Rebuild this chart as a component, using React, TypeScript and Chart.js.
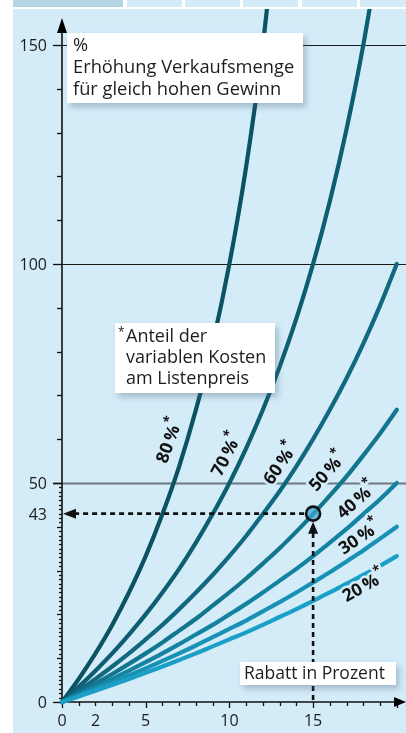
import React, { useEffect, useRef } from "react";
import { Chart, registerables } from "chart.js";

Chart.register(...registerables);

// ---------- data ----------
const discount = [0, 1, 2, 3, 4, 5, 6, 7, 8, 9, 10, 11, 12, 13, 14, 15, 16, 17, 18, 19, 20];

const share80 = [0, 5.26, 11.1, 17.6, 25, 33.3, 42.9, 53.8, 66.7, 81.8, 100, 122.2, 150, 185.7, null, null, null, null, null, null, null];
const share70 = [0, 3.45, 7.14, 11.1, 15.4, 20, 25, 30.4, 36.4, 42.9, 50, 57.9, 66.7, 76.5, 87.5, 100, 114.3, 130.8, 150, 172.7, null];
const share60 = [0, 2.56, 5.26, 8.11, 11.1, 14.3, 17.6, 21.2, 25, 29, 33.3, 37.9, 42.9, 48.1, 53.8, 60, 66.7, 73.9, 81.8, 90.5, 100];
const share50 = [0, 2.04, 4.17, 6.38, 8.7, 11.1, 13.6, 16.3, 19, 22, 25, 28.2, 31.6, 35.1, 38.9, 42.9, 47.1, 51.5, 56.3, 61.3, 66.7];
const share40 = [0, 1.69, 3.45, 5.26, 7.14, 9.09, 11.1, 13.2, 15.4, 17.6, 20, 22.4, 25, 27.7, 30.4, 33.3, 36.4, 39.5, 42.9, 46.3, 50];
const share30 = [0, 1.45, 2.94, 4.48, 6.06, 7.69, 9.38, 11.1, 12.9, 14.8, 16.7, 18.6, 20.7, 22.8, 25, 27.3, 29.6, 32.1, 34.6, 37.3, 40];
const share20 = [0, 1.27, 2.56, 3.9, 5.26, 6.67, 8.11, 9.59, 11.1, 12.7, 14.3, 15.9, 17.6, 19.4, 21.2, 23.1, 25, 27, 29, 31.1, 33.3];

const seriesNames = ["20", "30", "40", "50", "60", "70", "80"];
const seriesValues = [share20, share30, share40, share50, share60, share70, share80];

const xTickLabels = [0, 2, 5, 10, 15];
const yTickLabels = [0, 43, 50, 100, 150];
const gridValues = [50, 100, 150];

const markerDiscount = 15;
const markerIncrease = 43;

// ---------- styles ----------
const W = 406;
const H = 733;
const PANEL = "#d4ebf8";
const TAB_DARK = "#b2d5e3";
const TEXT = "#1d1d1d";
const FONT = '"Open Sans", "Noto Sans", sans-serif';
const seriesColors = ["#1b9fc7", "#1791b4", "#1483a2", "#12768f", "#10697f", "#0d5e71", "#0b5262"];

// label anchors (data coordinates) and rotation angles for the curve labels
const labelAnchors = [
  { x: 18.04, y: 26.3, a: 29 },
  { x: 17.8, y: 37.4, a: 34 },
  { x: 17.62, y: 45.9, a: 41 },
  { x: 15.89, y: 52.5, a: 48 },
  { x: 13.08, y: 54.3, a: 55 },
  { x: 9.86, y: 56.4, a: 63 },
  { x: 6.45, y: 59.6, a: 70 },
];

function drawBox(ctx: CanvasRenderingContext2D, x: number, y: number, w: number, h: number) {
  ctx.save();
  ctx.shadowColor = "rgba(70,100,120,0.35)";
  ctx.shadowBlur = 6;
  ctx.shadowOffsetX = 3;
  ctx.shadowOffsetY = 4;
  ctx.fillStyle = "#ffffff";
  ctx.fillRect(x, y, w, h);
  ctx.restore();
}

const deco = {
  id: "deco",
  beforeDraw(chart: any) {
    const ctx: CanvasRenderingContext2D = chart.ctx;
    ctx.save();
    ctx.fillStyle = "#ffffff";
    ctx.fillRect(0, 0, W, H);
    ctx.fillStyle = PANEL;
    ctx.fillRect(13, 9, W - 13, H - 9);
    const tabs = [
      [13, 123, TAB_DARK],
      [127, 182, PANEL],
      [185, 240, PANEL],
      [243, 298, PANEL],
      [302, 357, PANEL],
      [360, 406, PANEL],
    ];
    tabs.forEach(([a, b, c]: any) => {
      ctx.fillStyle = c;
      ctx.fillRect(a, 0, b - a, 7);
    });
    ctx.restore();
  },
  beforeDatasetsDraw(chart: any) {
    const ctx: CanvasRenderingContext2D = chart.ctx;
    const xs = chart.scales.x;
    const ys = chart.scales.y;
    const x0 = xs.getPixelForValue(0);
    const y0 = ys.getPixelForValue(0);
    ctx.save();
    // grid lines
    gridValues.forEach((v) => {
      const py = Math.round(ys.getPixelForValue(v)) + 0.5;
      ctx.strokeStyle = v === 50 ? "#6c7982" : "#1a1a1a";
      ctx.lineWidth = v === 50 ? 2 : 1.2;
      ctx.beginPath();
      ctx.moveTo(x0 - 9, py);
      ctx.lineTo(W, py);
      ctx.stroke();
    });
    // y ticks
    ctx.strokeStyle = "#111";
    ctx.lineWidth = 1.3;
    for (let v = 0; v <= 150; v += 1) {
      let len = 0;
      if (v <= 50) len = v % 10 === 0 ? 5 : 3;
      else if (v % 10 === 0) len = 5;
      if (v === 0 || v === 50 || v === 100 || v === 150) len = 9;
      if (!len) continue;
      const py = Math.round(ys.getPixelForValue(v)) + 0.5;
      ctx.beginPath();
      ctx.moveTo(x0 - len, py);
      ctx.lineTo(x0, py);
      ctx.stroke();
    }
    // x ticks
    for (let v = 0; v <= 20; v += 1) {
      const px = Math.round(xs.getPixelForValue(v)) + 0.5;
      const len = v % 5 === 0 ? 6 : 4;
      ctx.beginPath();
      ctx.moveTo(px, y0);
      ctx.lineTo(px, y0 + len);
      ctx.stroke();
    }
    // axes lines
    ctx.lineWidth = 1.6;
    ctx.beginPath();
    ctx.moveTo(x0, y0 + 2);
    ctx.lineTo(x0, 24);
    ctx.moveTo(x0 - 2, y0);
    ctx.lineTo(W - 8, y0);
    ctx.stroke();
    ctx.fillStyle = "#000";
    ctx.beginPath();
    ctx.moveTo(x0, 18);
    ctx.lineTo(x0 - 5, 33);
    ctx.lineTo(x0 + 5, 33);
    ctx.closePath();
    ctx.fill();
    ctx.beginPath();
    ctx.moveTo(W, y0);
    ctx.lineTo(W - 12, y0 - 5);
    ctx.lineTo(W - 12, y0 + 5);
    ctx.closePath();
    ctx.fill();
    ctx.restore();
  },
  afterDatasetsDraw(chart: any) {
    const ctx: CanvasRenderingContext2D = chart.ctx;
    const xs = chart.scales.x;
    const ys = chart.scales.y;
    const x0 = xs.getPixelForValue(0);
    const y0 = ys.getPixelForValue(0);
    ctx.save();

    // curve labels
    labelAnchors.forEach((l, i) => {
      const px = xs.getPixelForValue(l.x);
      const py = ys.getPixelForValue(l.y);
      const main = seriesNames[i] + "\u2009%";
      ctx.save();
      ctx.translate(px, py);
      ctx.rotate((-l.a * Math.PI) / 180);
      ctx.font = `bold 17.5px ${FONT}`;
      const wMain = ctx.measureText(main).width;
      ctx.font = `bold 13px ${FONT}`;
      const wStar = ctx.measureText("*").width;
      const start = -(wMain + wStar) / 2;
      ctx.textBaseline = "middle";
      ctx.textAlign = "left";
      ctx.lineJoin = "round";
      ctx.strokeStyle = PANEL;
      ctx.lineWidth = 5;
      ctx.font = `bold 17.5px ${FONT}`;
      ctx.strokeText(main, start, 0);
      ctx.fillStyle = "#111";
      ctx.fillText(main, start, 0);
      ctx.font = `bold 13px ${FONT}`;
      ctx.strokeText("*", start + wMain, -8);
      ctx.fillText("*", start + wMain, -8);
      ctx.restore();
    });

    // marker and dashed arrows
    const mx = xs.getPixelForValue(markerDiscount);
    const my = ys.getPixelForValue(markerIncrease);
    const r = 7;
    ctx.strokeStyle = "#111";
    ctx.fillStyle = "#111";
    ctx.lineWidth = 2.6;
    ctx.setLineDash([5, 4]);
    ctx.beginPath();
    ctx.moveTo(mx - r - 2, my);
    ctx.lineTo(x0 + 12, my);
    ctx.moveTo(mx, y0 - 2);
    ctx.lineTo(mx, my + r + 10);
    ctx.stroke();
    ctx.setLineDash([]);
    ctx.beginPath();
    ctx.moveTo(x0 + 1, my);
    ctx.lineTo(x0 + 14, my - 5);
    ctx.lineTo(x0 + 14, my + 5);
    ctx.closePath();
    ctx.fill();
    ctx.beginPath();
    ctx.moveTo(mx, my + r + 1);
    ctx.lineTo(mx - 5, my + r + 13);
    ctx.lineTo(mx + 5, my + r + 13);
    ctx.closePath();
    ctx.fill();
    ctx.beginPath();
    ctx.arc(mx, my, r, 0, Math.PI * 2);
    ctx.fillStyle = "rgba(60,165,215,0.7)";
    ctx.fill();
    ctx.lineWidth = 2.6;
    ctx.stroke();

    // tick labels
    ctx.fillStyle = TEXT;
    ctx.font = `16px ${FONT}`;
    ctx.textAlign = "right";
    ctx.textBaseline = "alphabetic";
    yTickLabels.forEach((v) => {
      ctx.fillText(String(v), x0 - 15, ys.getPixelForValue(v) + 6);
    });
    ctx.textAlign = "center";
    xTickLabels.forEach((v) => {
      ctx.fillText(String(v), xs.getPixelForValue(v), y0 + 24);
    });

    // text boxes
    ctx.textAlign = "left";
    drawBox(ctx, 67, 33, 236, 70);
    ctx.fillStyle = TEXT;
    ctx.font = `18.3px ${FONT}`;
    ctx.fillText("%", 73, 51);
    ctx.fillText("Erhöhung Verkaufsmenge", 73, 73);
    ctx.fillText("für gleich hohen Gewinn", 73, 95);

    drawBox(ctx, 115, 323, 160, 70);
    ctx.fillStyle = TEXT;
    ctx.font = `12px ${FONT}`;
    ctx.fillText("*", 118, 336);
    ctx.font = `18px ${FONT}`;
    ctx.fillText("Anteil der", 126, 342);
    ctx.fillText("variablen Kosten", 126, 363);
    ctx.fillText("am Listenpreis", 126, 384);

    drawBox(ctx, 240, 662, 156, 23);
    ctx.fillStyle = TEXT;
    ctx.font = `17.5px ${FONT}`;
    ctx.fillText("Rabatt in Prozent", 244, 679);

    ctx.restore();
  },
};

export default function App() {
  const ref = useRef<HTMLCanvasElement | null>(null);
  useEffect(() => {
    document.body.style.margin = "0";
    const canvas = ref.current;
    if (!canvas) return;
    const datasets = seriesValues.map((vals, i) => ({
      label: seriesNames[i] + " %",
      data: discount
        .map((d, j) => ({ x: d, y: vals[j] }))
        .filter((p) => p.y !== null),
      borderColor: seriesColors[i],
      backgroundColor: seriesColors[i],
      borderWidth: 4.2,
      borderCapStyle: "round" as const,
      borderJoinStyle: "round" as const,
      cubicInterpolationMode: "monotone" as const,
      pointRadius: 0,
      fill: false,
      clip: { left: 4, top: 0, right: 4, bottom: 4 },
    }));
    const chart = new Chart(canvas, {
      type: "line",
      data: { datasets },
      options: {
        animation: false,
        responsive: false,
        maintainAspectRatio: false,
        devicePixelRatio: 1,
        layout: { padding: { left: 62, right: 0, top: 9, bottom: 31 } },
        plugins: { legend: { display: false }, tooltip: { enabled: false } },
        scales: {
          x: { type: "linear", min: 0, max: 20.55, display: false },
          y: { type: "linear", min: 0, max: 158.2, display: false },
        },
      },
      plugins: [deco],
    });
    return () => chart.destroy();
  }, []);
  return (
    <div style={{ position: "relative", width: W, height: H }}>
      <canvas ref={ref} width={W} height={H} style={{ width: W, height: H, display: "block" }} />
    </div>
  );
}
